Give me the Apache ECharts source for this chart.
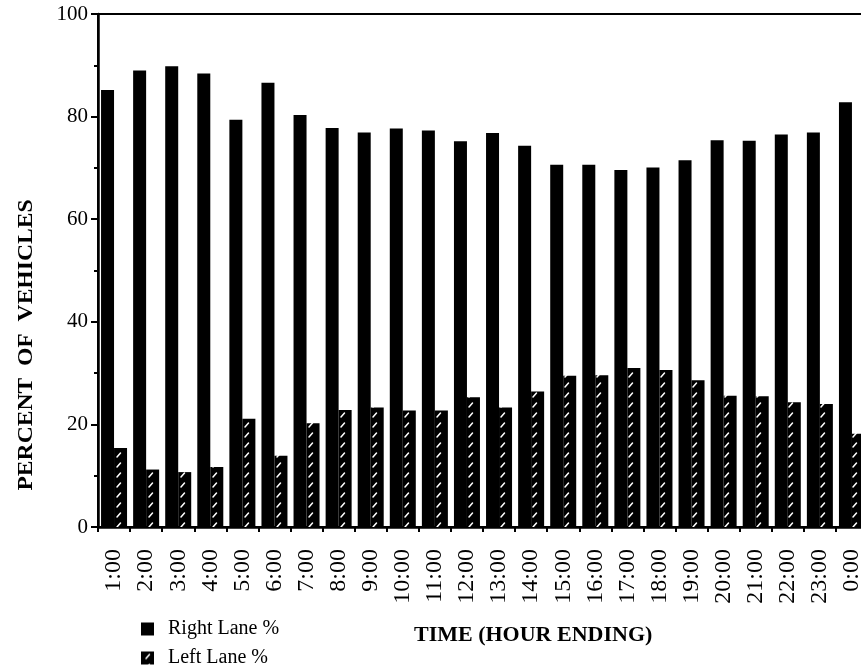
<!DOCTYPE html>
<html>
<head>
<meta charset="utf-8">
<script src="https://cdn.jsdelivr.net/npm/echarts@6/dist/echarts.min.js"></script>
<style>
html,body{margin:0;padding:0;background:#fff;}
#chart{width:861px;height:668px;}
</style>
</head>
<body>
<div id="chart"></div>
<script>
const categories = ['1:00','2:00','3:00','4:00','5:00','6:00','7:00','8:00','9:00','10:00','11:00','12:00',
  '13:00','14:00','15:00','16:00','17:00','18:00','19:00','20:00','21:00','22:00','23:00','0:00'];
const rightLane = [85.2, 89.0, 89.8, 88.4, 79.4, 86.6, 80.3, 77.8, 76.9, 77.7, 77.3, 75.2,
  76.8, 74.3, 70.6, 70.6, 69.6, 70.1, 71.5, 75.4, 75.3, 76.5, 76.9, 82.8];
const leftLane = [15.4, 11.2, 10.7, 11.7, 21.1, 13.9, 20.2, 22.8, 23.3, 22.7, 22.7, 25.3,
  23.3, 26.4, 29.5, 29.6, 31.0, 30.6, 28.6, 25.6, 25.5, 24.3, 24.0, 18.2];
const yTicks = [0, 20, 40, 60, 80, 100];

// hatch pattern: black with white diagonal dashes
const tile = document.createElement('canvas');
tile.width = 16; tile.height = 10;
const g = tile.getContext('2d');
g.fillStyle = '#000'; g.fillRect(0, 0, 16, 10);
g.strokeStyle = '#fff'; g.lineWidth = 1.5; g.lineCap = 'round';
g.beginPath(); g.moveTo(5, 7); g.lineTo(8.5, 3); g.stroke();

const serif = '"Liberation Serif", "DejaVu Serif", serif';
const legendBase = {
  orient: 'vertical', left: 141, padding: 0, itemWidth: 13, itemHeight: 13,
  textStyle: {fontFamily: serif, fontSize: 20, color: '#000', padding: [0, 0, 0, 9]}
};
const chart = echarts.init(document.getElementById('chart'), null, {renderer: 'canvas'});
chart.setOption({
  animation: false,
  backgroundColor: '#fff',
  grid: {left: 98, top: 14, right: -7, bottom: 141, outerBoundsMode: 'none', containLabel: false,
    show: true, borderColor: '#000', borderWidth: 2, backgroundColor: 'transparent'},
  legend: [
    Object.assign({}, legendBase, {top: 619, data: [{name: 'Right Lane %', icon: 'rect'}]}),
    Object.assign({}, legendBase, {top: 648, data: [{name: 'Left Lane %', icon: 'rect'}]})
  ],
  xAxis: {
    type: 'category', data: categories,
    axisLine: {lineStyle: {color: '#000', width: 2.5}},
    axisTick: {show: true, alignWithLabel: false, length: 5, lineStyle: {color: '#000', width: 2}},
    axisLabel: {rotate: 90, margin: 22, fontFamily: serif, fontSize: 24, color: '#000', interval: 0}
  },
  yAxis: {
    type: 'value', min: 0, max: 100, interval: 20,
    axisLine: {show: true, lineStyle: {color: '#000', width: 2.5}},
    axisTick: {show: true, length: 7, lineStyle: {color: '#000', width: 2}},
    minorTick: {show: true, splitNumber: 2, length: 4, lineStyle: {color: '#000', width: 2}},
    splitLine: {show: false},
    axisLabel: {margin: 10, fontFamily: serif, fontSize: 21, color: '#000',
      formatter: v => yTicks.includes(v) ? String(v) : ''}
  },
  series: [
    {name: 'Right Lane %', type: 'bar', data: rightLane, barWidth: 13, barGap: '0%',
      itemStyle: {color: '#000'}},
    {name: 'Left Lane %', type: 'bar', data: leftLane, barWidth: 13,
      itemStyle: {color: {image: tile, repeat: 'repeat'}}}
  ],
  graphic: [
    {type: 'text', left: 414, top: 624, style: {text: 'TIME (HOUR ENDING)', font: 'bold 22px ' + serif, fill: '#000'}},
    {type: 'text', x: 17, y: 345, rotation: Math.PI / 2, scaleX: 1.18,
      style: {text: 'PERCENT  OF  VEHICLES', font: 'bold 20px ' + serif, fill: '#000', align: 'center', verticalAlign: 'top'}}
  ]
});
</script>
</body>
</html>
